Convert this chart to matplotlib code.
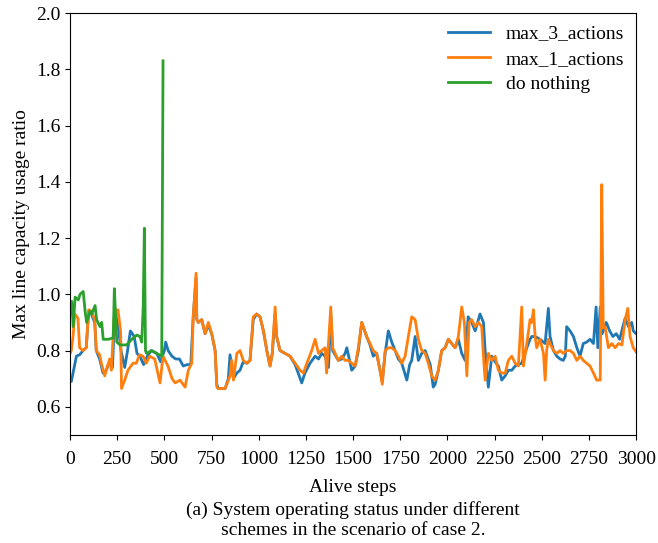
import matplotlib
matplotlib.use('Agg')
import matplotlib.pyplot as plt

plt.rcParams['font.family'] = ['Liberation Serif', 'DejaVu Serif']

# max_3_actions (blue)
max3_x = [0, 7, 16, 34, 51, 69, 86, 99, 113, 131,
          139, 157, 175, 192, 210, 225, 237, 248, 260, 270,
          290, 305, 320, 340, 355, 370, 390, 410, 430, 460,
          480, 500, 507, 520, 540, 560, 580, 600, 620, 640,
          653, 668, 672, 680, 698, 716, 733, 751, 769, 778,
          786, 822, 839, 848, 866, 884, 901, 918, 937, 954,
          971, 989, 1007, 1025, 1043, 1060, 1072, 1087, 1095, 1113,
          1140, 1166, 1193, 1228, 1245, 1272, 1299, 1317, 1334, 1352,
          1370, 1382, 1392, 1405, 1422, 1440, 1458, 1467, 1493, 1511,
          1528, 1546, 1572, 1590, 1607, 1625, 1643, 1655, 1670, 1687,
          1705, 1723, 1740, 1758, 1785, 1800, 1811, 1829, 1846, 1864,
          1882, 1909, 1925, 1935, 1952, 1970, 1988, 2005, 2023, 2041,
          2058, 2076, 2094, 2110, 2129, 2147, 2173, 2191, 2200, 2217,
          2235, 2253, 2270, 2288, 2306, 2323, 2341, 2359, 2394, 2421,
          2438, 2447, 2465, 2491, 2518, 2535, 2544, 2562, 2580, 2597,
          2614, 2625, 2632, 2650, 2668, 2686, 2703, 2720, 2738, 2756,
          2774, 2788, 2797, 2810, 2820, 2842, 2860, 2877, 2895, 2913,
          2930, 2942, 2960, 2977, 2985, 3000]
max3_y = [0.70, 0.69, 0.72, 0.78, 0.785, 0.80, 0.81, 0.94, 0.93, 0.90,
          0.80, 0.77, 0.72, 0.73, 0.76, 0.74, 0.93, 0.94, 0.86, 0.80,
          0.74, 0.80, 0.87, 0.85, 0.79, 0.78, 0.75, 0.78, 0.80, 0.79,
          0.76, 0.80, 0.83, 0.80, 0.78, 0.77, 0.77, 0.745, 0.75, 0.75,
          0.92, 1.06, 0.91, 0.90, 0.91, 0.86, 0.89, 0.86, 0.80, 0.68,
          0.665, 0.665, 0.70, 0.785, 0.70, 0.72, 0.73, 0.76, 0.755, 0.765,
          0.91, 0.93, 0.92, 0.87, 0.80, 0.745, 0.79, 0.93, 0.85, 0.80,
          0.79, 0.78, 0.75, 0.685, 0.72, 0.755, 0.78, 0.77, 0.79, 0.78,
          0.74, 0.93, 0.80, 0.785, 0.765, 0.77, 0.79, 0.81, 0.73, 0.745,
          0.80, 0.90, 0.85, 0.82, 0.78, 0.79, 0.73, 0.69, 0.79, 0.87,
          0.83, 0.80, 0.77, 0.755, 0.695, 0.75, 0.765, 0.85, 0.765, 0.79,
          0.80, 0.75, 0.67, 0.68, 0.73, 0.80, 0.81, 0.84, 0.825, 0.81,
          0.84, 0.79, 0.765, 0.92, 0.90, 0.87, 0.93, 0.90, 0.80, 0.67,
          0.78, 0.76, 0.745, 0.695, 0.71, 0.73, 0.73, 0.745, 0.755, 0.81,
          0.84, 0.85, 0.85, 0.84, 0.825, 0.95, 0.85, 0.80, 0.78, 0.77,
          0.765, 0.78, 0.885, 0.87, 0.85, 0.81, 0.78, 0.825, 0.83, 0.84,
          0.825, 0.955, 0.81, 0.955, 0.86, 0.90, 0.87, 0.85, 0.86, 0.84,
          0.885, 0.915, 0.885, 0.90, 0.87, 0.86]

# max_1_actions (orange)
max1_x = [0, 7, 16, 25, 42, 51, 69, 86, 99, 113,
          131, 139, 157, 166, 184, 192, 210, 219, 237, 245,
          254, 268, 273, 290, 307, 334, 351, 369, 387, 404,
          422, 449, 477, 493, 519, 541, 557, 583, 610, 627,
          645, 653, 668, 672, 680, 698, 716, 733, 751, 769,
          778, 786, 822, 839, 848, 857, 866, 884, 901, 918,
          937, 954, 971, 989, 1007, 1025, 1043, 1060, 1072, 1087,
          1095, 1113, 1140, 1166, 1193, 1219, 1237, 1255, 1281, 1299,
          1317, 1334, 1352, 1360, 1382, 1392, 1405, 1422, 1440, 1458,
          1476, 1493, 1511, 1528, 1546, 1554, 1572, 1590, 1607, 1625,
          1643, 1655, 1670, 1687, 1705, 1723, 1740, 1758, 1776, 1793,
          1811, 1829, 1846, 1864, 1882, 1899, 1917, 1935, 1952, 1970,
          1988, 2005, 2023, 2041, 2058, 2076, 2090, 2103, 2115, 2129,
          2147, 2164, 2182, 2191, 2200, 2217, 2235, 2253, 2270, 2288,
          2306, 2323, 2341, 2359, 2376, 2394, 2403, 2421, 2438, 2447,
          2456, 2465, 2473, 2491, 2509, 2518, 2526, 2535, 2544, 2562,
          2580, 2597, 2614, 2632, 2650, 2668, 2686, 2703, 2720, 2738,
          2756, 2774, 2791, 2810, 2818, 2826, 2836, 2853, 2871, 2889,
          2907, 2925, 2942, 2956, 2968, 2985, 3000]
max1_y = [0.79, 0.80, 0.85, 0.93, 0.915, 0.81, 0.80, 0.81, 0.945, 0.94,
          0.91, 0.80, 0.785, 0.755, 0.71, 0.73, 0.77, 0.73, 0.955, 0.92,
          0.945, 0.87, 0.665, 0.695, 0.73, 0.755, 0.755, 0.785, 0.78, 0.755,
          0.78, 0.77, 0.685, 0.78, 0.745, 0.70, 0.685, 0.695, 0.67, 0.73,
          0.755, 0.92, 1.075, 0.91, 0.90, 0.91, 0.86, 0.90, 0.86, 0.80,
          0.67, 0.665, 0.665, 0.695, 0.71, 0.765, 0.695, 0.79, 0.80, 0.765,
          0.755, 0.765, 0.92, 0.93, 0.92, 0.87, 0.80, 0.745, 0.79, 0.955,
          0.85, 0.80, 0.79, 0.78, 0.755, 0.73, 0.72, 0.755, 0.80, 0.84,
          0.79, 0.80, 0.81, 0.72, 0.955, 0.81, 0.79, 0.765, 0.78, 0.765,
          0.765, 0.755, 0.745, 0.81, 0.90, 0.885, 0.85, 0.825, 0.80, 0.79,
          0.73, 0.68, 0.80, 0.81, 0.81, 0.80, 0.78, 0.755, 0.78, 0.85,
          0.92, 0.91, 0.84, 0.80, 0.79, 0.755, 0.71, 0.695, 0.73, 0.80,
          0.81, 0.84, 0.825, 0.81, 0.85, 0.955, 0.90, 0.71, 0.90, 0.91,
          0.885, 0.90, 0.885, 0.78, 0.695, 0.79, 0.765, 0.78, 0.73, 0.72,
          0.72, 0.765, 0.78, 0.755, 0.745, 0.955, 0.745, 0.825, 0.91, 0.90,
          0.945, 0.85, 0.81, 0.84, 0.79, 0.695, 0.80, 0.84, 0.825, 0.80,
          0.79, 0.80, 0.79, 0.80, 0.80, 0.79, 0.765, 0.78, 0.765, 0.755,
          0.745, 0.72, 0.695, 0.695, 1.39, 0.88, 0.885, 0.81, 0.825, 0.81,
          0.825, 0.82, 0.91, 0.95, 0.85, 0.81, 0.795]

# do nothing (green)
nothing_x = [0, 9, 17, 27, 44, 53, 70, 80, 88, 106,
             115, 133, 141, 159, 168, 176, 203, 229, 235, 241,
             248, 265, 300, 327, 354, 371, 380, 388, 394, 400,
             406, 433, 459, 486, 493]
nothing_y = [0.93, 0.975, 0.885, 0.99, 0.98, 1.0, 1.01, 0.94, 0.90, 0.94,
             0.93, 0.96, 0.91, 0.885, 0.90, 0.84, 0.84, 0.845, 1.02, 0.93,
             0.83, 0.82, 0.82, 0.84, 0.855, 0.85, 0.83, 0.955, 1.235, 0.80,
             0.79, 0.80, 0.79, 0.78, 1.83]

fig = plt.figure(figsize=(6.58, 5.43), dpi=100)
ax = fig.add_axes([0.1064, 0.199, 0.8603, 0.777])

ax.plot(max3_x, max3_y, color='#1f77b4', lw=2, label='max_3_actions')
ax.plot(max1_x, max1_y, color='#ff7f0e', lw=2, label='max_1_actions')
ax.plot(nothing_x, nothing_y, color='#2ca02c', lw=2, label='do nothing')

ax.set_xlim(0, 3000)
ax.set_ylim(0.5, 2.0)
ax.set_xticks(range(0, 3001, 250))
ax.set_yticks([0.6, 0.8, 1.0, 1.2, 1.4, 1.6, 1.8, 2.0])
ax.tick_params(labelsize=14)
ax.tick_params(axis='x', pad=8)
ax.set_xlabel('Alive steps', fontsize=14, labelpad=8)
ax.set_ylabel('Max line capacity usage ratio', fontsize=14)

ax.legend(loc='upper right', fontsize=14, frameon=False,
          handlelength=2.2, borderaxespad=0.2, labelspacing=0.4)

fig.text(0.537, 0.042, '(a) System operating status under different\n'
         'schemes in the scenario of case 2.', ha='center', va='center',
         fontsize=14, linespacing=1.25)

fig.savefig('out.png', dpi=100)
